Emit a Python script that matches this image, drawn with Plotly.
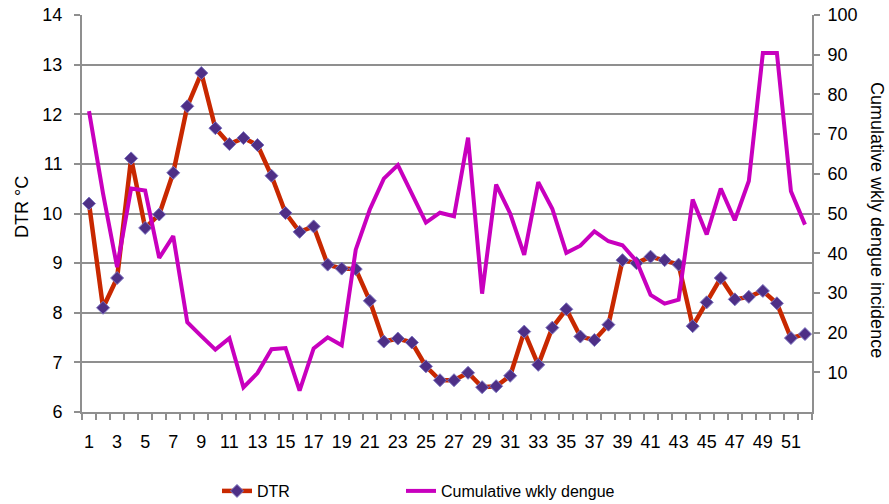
import plotly.graph_objects as go

# Week number (1-52)
weeks = list(range(1, 53))

# Diurnal temperature range per week (°C)
dtr = [10.20, 8.10, 8.70, 11.11, 9.71, 9.98, 10.82, 12.16, 12.83, 11.72,
       11.40, 11.52, 11.38, 10.76, 10.01, 9.63, 9.74, 8.97, 8.89, 8.88,
       8.24, 7.42, 7.48, 7.40, 6.92, 6.64, 6.64, 6.79, 6.50, 6.52,
       6.73, 7.62, 6.95, 7.70, 8.07, 7.52, 7.45, 7.76, 9.06, 9.00,
       9.13, 9.06, 8.97, 7.73, 8.21, 8.70, 8.27, 8.32, 8.44, 8.19,
       7.49, 7.57]

# Cumulative weekly dengue incidence
dengue = [75.8, 55.0, 36.5, 56.3, 55.8, 38.8, 44.3, 22.6, 19.1, 15.7,
          18.6, 6.2, 9.8, 15.8, 16.1, 5.4, 16.0, 18.8, 16.8, 40.9,
          51.0, 58.8, 62.2, 54.8, 47.7, 50.2, 49.3, 69.1, 29.8, 57.3,
          50.0, 39.6, 57.9, 51.2, 40.1, 41.9, 45.5, 43.0, 42.0, 38.0,
          29.5, 27.3, 28.3, 53.5, 44.7, 56.3, 48.3, 58.2, 90.4, 90.4,
          55.6, 47.2]

x_labels = list(range(1, 53, 2))
left_ticks = list(range(6, 15))
right_ticks = list(range(10, 101, 10))

FONT = "Liberation Sans, Arial, sans-serif"
GRID = "#8f8f8f"
RED = "#C82800"
MAGENTA = "#C800BE"
TICK_SIZE = 18

# plot area in pixels
L, R, T, B = 82, 812, 15, 412
PW, PH = R - L, B - T


def px_x(px):
    return (px - L) / PW


def px_y(py):
    return (B - py) / PH


fig = go.Figure()

fig.add_trace(go.Scatter(
    x=weeks, y=dtr, name="DTR", mode="lines+markers",
    line=dict(color=RED, width=4.5),
    marker=dict(symbol="diamond", size=10, color="#4E2F86",
                line=dict(color="#7C74C0", width=1)),
    yaxis="y", legend="legend",
))

fig.add_trace(go.Scatter(
    x=weeks, y=dengue, name="Cumulative wkly dengue", mode="lines",
    line=dict(color=MAGENTA, width=4),
    yaxis="y2", legend="legend2",
))

legend_common = dict(
    orientation="h", yanchor="middle", xanchor="left",
    font=dict(family=FONT, size=16, color="black"),
    bgcolor="rgba(0,0,0,0)",
)

fig.update_layout(
    width=889, height=504,
    margin=dict(l=L, r=889 - R, t=T, b=504 - B, autoexpand=False),
    paper_bgcolor="white", plot_bgcolor="white",
    font=dict(family=FONT, size=16, color="black"),
    showlegend=True,
    legend=dict(x=px_x(217), y=px_y(491), **legend_common),
    legend2=dict(x=px_x(401), y=px_y(491), **legend_common),
    xaxis=dict(
        range=[0.5, 52.5],
        tickmode="array", tickvals=x_labels, ticktext=[str(v) for v in x_labels],
        ticks="", showgrid=False, zeroline=False,
        showline=True, linecolor=GRID, linewidth=2,
        tickfont=dict(size=TICK_SIZE), automargin=False,
        ticklabelstandoff=12,
        minor=dict(ticks="outside", tick0=0.5, dtick=1, ticklen=6,
                   tickcolor=GRID, tickwidth=1.5, showgrid=False),
    ),
    yaxis=dict(
        range=[6, 14], tickmode="array", tickvals=left_ticks,
        ticks="outside", ticklen=6, tickcolor=GRID, tickwidth=1.5,
        showgrid=True, gridcolor=GRID, gridwidth=2, zeroline=False,
        showline=True, linecolor=GRID, linewidth=2,
        tickfont=dict(size=TICK_SIZE), automargin=False,
        ticklabelstandoff=8,
    ),
    yaxis2=dict(
        range=[0, 100], overlaying="y", side="right",
        tickmode="array", tickvals=right_ticks,
        ticks="outside", ticklen=6, tickcolor=GRID, tickwidth=1.5,
        showgrid=False, zeroline=False,
        showline=True, linecolor=GRID, linewidth=2,
        tickfont=dict(size=TICK_SIZE), automargin=False,
        ticklabelstandoff=4,
    ),
    annotations=[
        dict(text="DTR °C", xref="paper", yref="paper",
             x=px_x(22), y=px_y(207),
             xanchor="center", yanchor="middle", showarrow=False,
             textangle=-90, font=dict(size=18, family=FONT)),
        dict(text="Cumulative wkly dengue incidence", xref="paper", yref="paper",
             x=px_x(877), y=px_y(220),
             xanchor="center", yanchor="middle", showarrow=False,
             textangle=90, font=dict(size=18, family=FONT)),
    ],
)

fig.write_html("out.html")
